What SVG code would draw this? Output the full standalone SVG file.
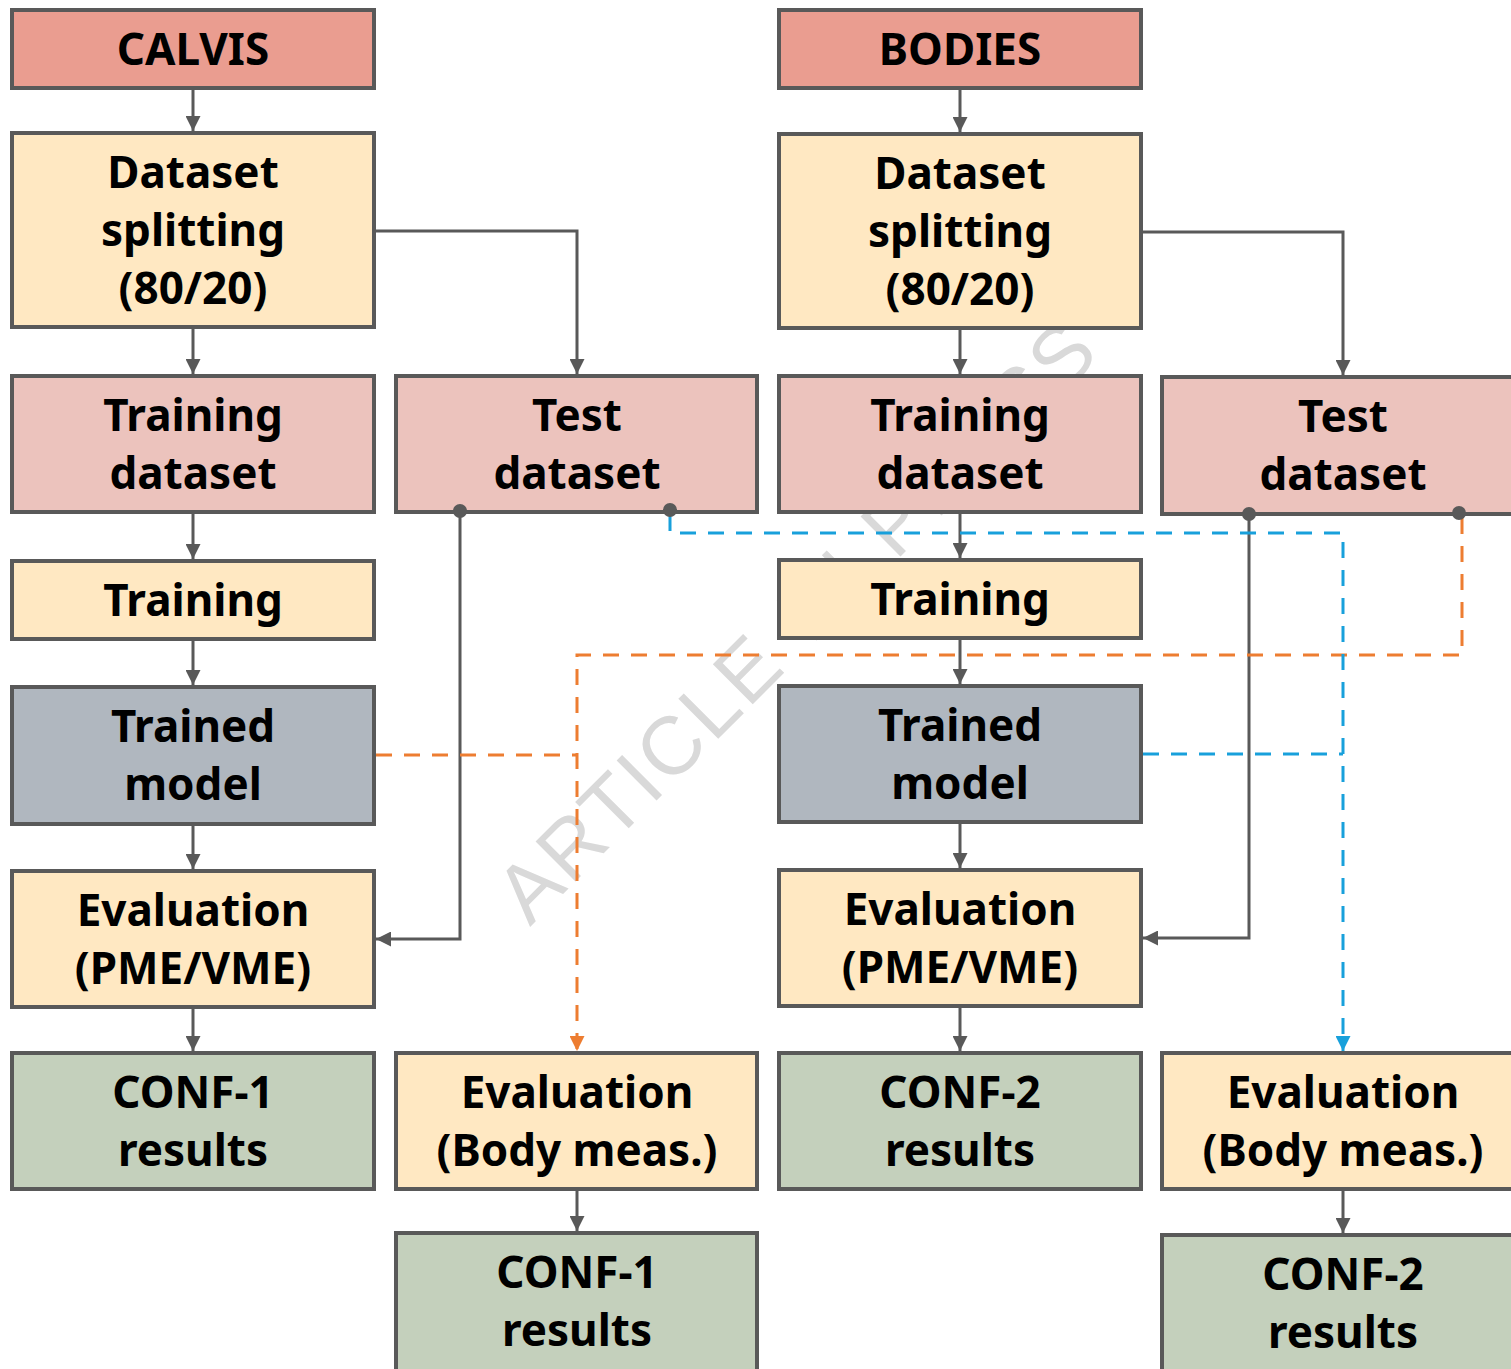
<svg xmlns="http://www.w3.org/2000/svg" width="1511" height="1369" viewBox="0 0 1511 1369">
  <style>
    .box { stroke: #595959; stroke-width: 4; stroke-linejoin: miter; }
    .src { fill: #EA9D90; }
    .step { fill: #FFE8C2; }
    .data { fill: #ECC3BD; }
    .model { fill: #B0B7BF; }
    .result { fill: #C4D0BC; }
    .lbl { font-family: "Noto Sans", "Liberation Sans", sans-serif; font-weight: 700; font-size: 44px; fill: #000; text-anchor: middle; }
    .wire { fill: none; stroke: #595959; stroke-width: 3; }
    .dash-o { fill: none; stroke: #ED7D31; stroke-width: 3; stroke-dasharray: 16 12; }
    .dash-b { fill: none; stroke: #18A0DB; stroke-width: 3; stroke-dasharray: 16 12; }
    .dot { fill: #595959; }
    .wm { font-family: "Liberation Sans", Arial, sans-serif; font-size: 82px; fill: #D9D9D9; letter-spacing: 3px; word-spacing: 6px; }
  </style>
  <defs>
    <marker id="ah-gray" markerUnits="userSpaceOnUse" markerWidth="15" markerHeight="15" refX="15" refY="7.5" orient="auto">
      <path d="M0,0 L15,7.5 L0,15 z" fill="#595959"/>
    </marker>
    <marker id="ah-orange" markerUnits="userSpaceOnUse" markerWidth="15" markerHeight="15" refX="15" refY="7.5" orient="auto">
      <path d="M0,0 L15,7.5 L0,15 z" fill="#ED7D31"/>
    </marker>
    <marker id="ah-blue" markerUnits="userSpaceOnUse" markerWidth="15" markerHeight="15" refX="15" refY="7.5" orient="auto">
      <path d="M0,0 L15,7.5 L0,15 z" fill="#18A0DB"/>
    </marker>
  </defs>

  <rect width="1511" height="1369" fill="#FFFFFF"/>

  <!-- background stamp -->
  <text class="wm" transform="translate(530,927) rotate(-45)">ARTICLE IN PRESS</text>

  <!-- CALVIS column -->
  <g id="calvis">
    <rect class="box src" x="12" y="10" width="362" height="78"/>
    <text class="lbl" x="193" y="65">CALVIS</text>
  </g>
  <g id="split-1">
    <rect class="box step" x="12" y="133" width="362" height="194"/>
    <text class="lbl" x="193" y="188">Dataset</text>
    <text class="lbl" x="193" y="246">splitting</text>
    <text class="lbl" x="193" y="304">(80/20)</text>
  </g>
  <g id="train-data-1">
    <rect class="box data" x="12" y="376" width="362" height="136"/>
    <text class="lbl" x="193" y="431">Training</text>
    <text class="lbl" x="193" y="489">dataset</text>
  </g>
  <g id="test-data-1">
    <rect class="box data" x="396" y="376" width="361" height="136"/>
    <text class="lbl" x="577" y="431">Test</text>
    <text class="lbl" x="577" y="489">dataset</text>
  </g>
  <g id="training-1">
    <rect class="box step" x="12" y="561" width="362" height="78"/>
    <text class="lbl" x="193" y="616">Training</text>
  </g>
  <g id="model-1">
    <rect class="box model" x="12" y="687" width="362" height="137"/>
    <text class="lbl" x="193" y="742">Trained</text>
    <text class="lbl" x="193" y="800">model</text>
  </g>
  <g id="eval-1">
    <rect class="box step" x="12" y="871" width="362" height="136"/>
    <text class="lbl" x="193" y="926">Evaluation</text>
    <text class="lbl" x="193" y="984">(PME/VME)</text>
  </g>
  <g id="conf1-a">
    <rect class="box result" x="12" y="1053" width="362" height="136"/>
    <text class="lbl" x="193" y="1108">CONF-1</text>
    <text class="lbl" x="193" y="1166">results</text>
  </g>
  <g id="eval-body-1">
    <rect class="box step" x="396" y="1053" width="361" height="136"/>
    <text class="lbl" x="577" y="1108">Evaluation</text>
    <text class="lbl" x="577" y="1166">(Body meas.)</text>
  </g>
  <g id="conf1-b">
    <rect class="box result" x="396" y="1233" width="361" height="138"/>
    <text class="lbl" x="577" y="1288">CONF-1</text>
    <text class="lbl" x="577" y="1346">results</text>
  </g>

  <!-- BODIES column -->
  <g id="bodies">
    <rect class="box src" x="779" y="10" width="362" height="78"/>
    <text class="lbl" x="960" y="65">BODIES</text>
  </g>
  <g id="split-2">
    <rect class="box step" x="779" y="134" width="362" height="194"/>
    <text class="lbl" x="960" y="189">Dataset</text>
    <text class="lbl" x="960" y="247">splitting</text>
    <text class="lbl" x="960" y="305">(80/20)</text>
  </g>
  <g id="train-data-2">
    <rect class="box data" x="779" y="376" width="362" height="136"/>
    <text class="lbl" x="960" y="431">Training</text>
    <text class="lbl" x="960" y="489">dataset</text>
  </g>
  <g id="test-data-2">
    <rect class="box data" x="1162" y="377" width="362" height="137"/>
    <text class="lbl" x="1343" y="432">Test</text>
    <text class="lbl" x="1343" y="490">dataset</text>
  </g>
  <g id="training-2">
    <rect class="box step" x="779" y="560" width="362" height="78"/>
    <text class="lbl" x="960" y="615">Training</text>
  </g>
  <g id="model-2">
    <rect class="box model" x="779" y="686" width="362" height="136"/>
    <text class="lbl" x="960" y="741">Trained</text>
    <text class="lbl" x="960" y="799">model</text>
  </g>
  <g id="eval-2">
    <rect class="box step" x="779" y="870" width="362" height="136"/>
    <text class="lbl" x="960" y="925">Evaluation</text>
    <text class="lbl" x="960" y="983">(PME/VME)</text>
  </g>
  <g id="conf2-a">
    <rect class="box result" x="779" y="1053" width="362" height="136"/>
    <text class="lbl" x="960" y="1108">CONF-2</text>
    <text class="lbl" x="960" y="1166">results</text>
  </g>
  <g id="eval-body-2">
    <rect class="box step" x="1162" y="1053" width="362" height="136"/>
    <text class="lbl" x="1343" y="1108">Evaluation</text>
    <text class="lbl" x="1343" y="1166">(Body meas.)</text>
  </g>
  <g id="conf2-b">
    <rect class="box result" x="1162" y="1235" width="362" height="138"/>
    <text class="lbl" x="1343" y="1290">CONF-2</text>
    <text class="lbl" x="1343" y="1348">results</text>
  </g>

  <!-- connectors (drawn last so the source dots sit on the box borders) -->
  <g id="connectors">
    <!-- CALVIS chain -->
    <path class="wire" d="M193,90 V131" marker-end="url(#ah-gray)"/>
    <path class="wire" d="M193,329 V374" marker-end="url(#ah-gray)"/>
    <path class="wire" d="M376,231 H577 V374" marker-end="url(#ah-gray)"/>
    <path class="wire" d="M193,514 V559" marker-end="url(#ah-gray)"/>
    <path class="wire" d="M193,641 V685" marker-end="url(#ah-gray)"/>
    <path class="wire" d="M193,826 V869" marker-end="url(#ah-gray)"/>
    <path class="wire" d="M193,1009 V1051" marker-end="url(#ah-gray)"/>
    <path class="wire" d="M460,511 V939 H376" marker-end="url(#ah-gray)"/>
    <circle class="dot" cx="460" cy="511" r="7"/>
    <path class="wire" d="M577,1191 V1231" marker-end="url(#ah-gray)"/>

    <!-- BODIES chain -->
    <path class="wire" d="M960,90 V132" marker-end="url(#ah-gray)"/>
    <path class="wire" d="M960,330 V374" marker-end="url(#ah-gray)"/>
    <path class="wire" d="M1143,232 H1343 V375" marker-end="url(#ah-gray)"/>
    <path class="wire" d="M960,514 V558" marker-end="url(#ah-gray)"/>
    <path class="wire" d="M960,640 V684" marker-end="url(#ah-gray)"/>
    <path class="wire" d="M960,824 V868" marker-end="url(#ah-gray)"/>
    <path class="wire" d="M960,1008 V1051" marker-end="url(#ah-gray)"/>
    <path class="wire" d="M1249,514 V938 H1143" marker-end="url(#ah-gray)"/>
    <circle class="dot" cx="1249" cy="514" r="7"/>
    <path class="wire" d="M1343,1191 V1233" marker-end="url(#ah-gray)"/>

    <!-- cross evaluation: CALVIS model on BODIES test set -->
    <path class="dash-o" d="M376,755 H577"/>
    <path class="dash-o" d="M1462,518 V655 H577 V1051" marker-end="url(#ah-orange)"/>
    <circle class="dot" cx="1459" cy="513" r="7"/>

    <!-- cross evaluation: BODIES model on CALVIS test set -->
    <path class="dash-b" d="M1143,754 H1343"/>
    <path class="dash-b" d="M670,515 V533 H1343 V1051" marker-end="url(#ah-blue)"/>
    <circle class="dot" cx="670" cy="510" r="7"/>
  </g>
</svg>
